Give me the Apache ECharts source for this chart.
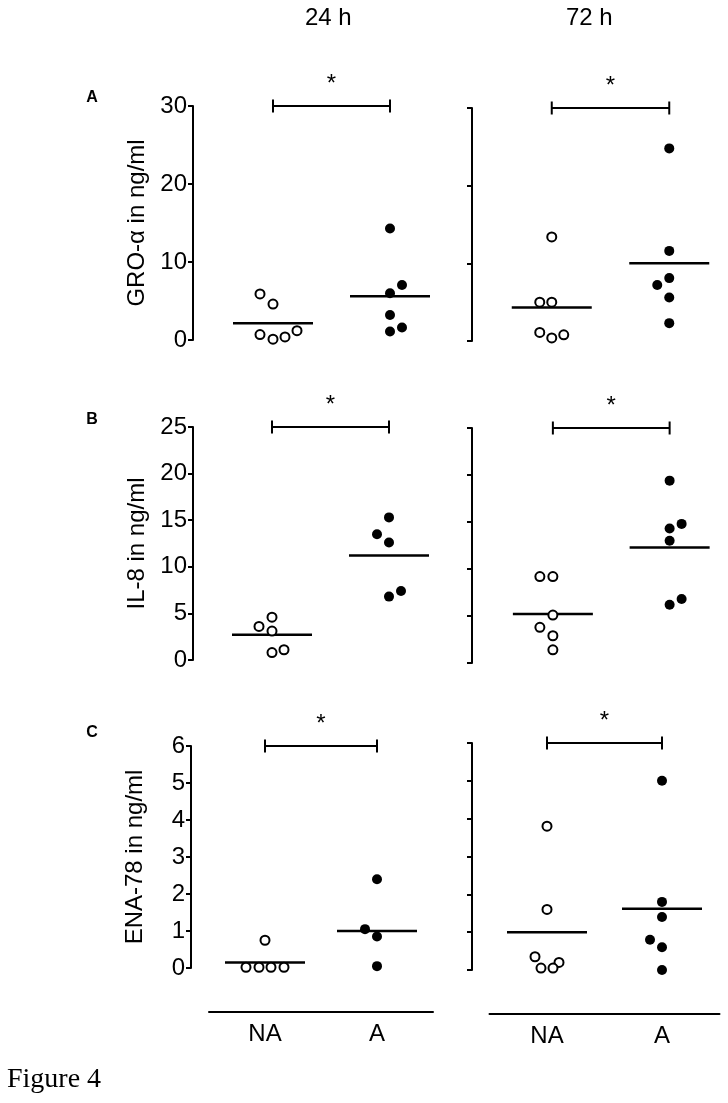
<!DOCTYPE html>
<html>
<head>
<meta charset="utf-8">
<title>Figure 4</title>
<script src="https://cdn.jsdelivr.net/npm/echarts@6/dist/echarts.min.js"></script>
<style>
html, body { margin: 0; padding: 0; background: #fff; }
#main { width: 728px; height: 1103px; }
</style>
</head>
<body>
<div id="main"></div>
<script>
// ---- data ----
var groups = ['NA', 'A'];
var times = ['24 h', '72 h'];
var letters = ['A', 'B', 'C'];
var yNames = ['GRO-α in ng/ml', 'IL-8 in ng/ml', 'ENA-78 in ng/ml'];
var yMax = [30, 25, 6];
var yStep = [10, 5, 1];

// GRO-alpha
var gro24NA = [5.9, 4.6, 0.7, 0.1, 0.4, 1.2];
var gro24A = [14.3, 7.05, 6.0, 3.2, 1.1, 1.6];
var gro72NA = [13.4, 5.0, 5.0, 1.1, 0.4, 0.8];
var gro72A = [24.8, 11.6, 8.1, 7.2, 5.6, 2.3];
var groMean24 = [2.15, 5.6];
var groMean72 = [4.3, 10.0];

// IL-8
var il24NA = [4.6, 3.6, 3.1, 0.8, 1.1];
var il24A = [15.3, 13.5, 12.6, 6.8, 7.4];
var il72NA = [9.2, 9.2, 5.1, 3.8, 2.9, 1.4];
var il72A = [19.4, 14.3, 14.8, 13.0, 6.2, 6.8];
var ilMean24 = [2.7, 11.2];
var ilMean72 = [5.2, 12.3];

// ENA-78
var ena24NA = [0.75, 0.02, 0.02, 0.02, 0.02];
var ena24A = [2.4, 1.05, 0.85, 0.05];
var ena72NA = [3.8, 1.6, 0.35, 0.2, 0.05, 0.05];
var ena72A = [5.0, 1.8, 1.4, 0.8, 0.6, 0.0];
var enaMean24 = [0.15, 1.0];
var enaMean72 = [1.0, 1.62];

// panels in reading order: A-24, A-72, B-24, B-72, C-24, C-72
var panelNA = [gro24NA, gro72NA, il24NA, il72NA, ena24NA, ena72NA];
var panelA = [gro24A, gro72A, il24A, il72A, ena24A, ena72A];
var panelMean = [groMean24, groMean72, ilMean24, ilMean72, enaMean24, enaMean72];

// ---- layout / style ----
// horizontal scatter spread (px) of the dots, same order as the values
var spreadNA = [
    [-13, 0, -13, 0, 12, 24], [0, -12, 0, -12, 0, 12],
    [0, -13, 0, 0, 12], [-13, 0, 0, -13, 0, 0],
    [0, -19, -6, 6, 19], [0, 0, -12, 12, -6, 6]
];
var spreadA = [
    [0, 12, 0, 0, 0, 12], [0, 0, 0, -12, 0, 0],
    [0, -12, 0, 0, 12], [0, 0, 12, 0, 0, 12],
    [0, -12, 0, 0], [0, 0, 0, -12, 0, 0]
];
// pixel frame of each panel: centre of NA, centre of A, top, bottom, y axis x
var frames = [
    {na: 273, a: 390, top: 106, bottom: 340, axisX: 193},
    {na: 552, a: 670, top: 108, bottom: 341, axisX: 472},
    {na: 272, a: 389, top: 427, bottom: 660, axisX: 193},
    {na: 553, a: 670, top: 428, bottom: 663, axisX: 472},
    {na: 265, a: 377, top: 746, bottom: 968, axisX: 191},
    {na: 547, a: 662, top: 743, bottom: 970, axisX: 472}
];

var FONT = "'Liberation Sans', Arial, sans-serif";

function drawFigure() {
    var myChart = echarts.init(document.getElementById('main'));

    var grid = [], xAxis = [], yAxis = [], series = [];

    for (var i = 0; i < 6; i++) {
        var r = Math.floor(i / 2), c = i % 2;
        var f = frames[i];
        var band = f.a - f.na;
        var left = f.na - band / 2;

        grid.push({left: left, top: f.top, width: band * 2, height: f.bottom - f.top});

        xAxis.push({
            gridIndex: i,
            type: 'category',
            data: groups,
            boundaryGap: true,
            offset: 44,
            axisLine: {show: r === 2, onZero: false, lineStyle: {color: '#000', width: 2}},
            axisTick: {show: false},
            axisLabel: {show: r === 2, color: '#000', fontSize: 24, fontFamily: FONT, margin: 10},
            splitLine: {show: false}
        });

        yAxis.push({
            gridIndex: i,
            type: 'value',
            min: 0,
            max: yMax[r],
            interval: yStep[r],
            offset: left - f.axisX,
            name: c === 0 ? yNames[r] : '',
            nameLocation: 'middle',
            nameGap: 44,
            nameTextStyle: {color: '#000', fontSize: 24, fontFamily: FONT},
            axisLine: {show: true, onZero: false, lineStyle: {color: '#000', width: 2}},
            axisTick: {show: true, length: 5, lineStyle: {color: '#000', width: 2}},
            axisLabel: {show: c === 0, color: '#000', fontSize: 24, fontFamily: FONT, margin: 6},
            splitLine: {show: false}
        });

        // mean lines
        series.push({
            type: 'scatter',
            xAxisIndex: i, yAxisIndex: i,
            symbol: 'rect',
            symbolSize: [80, 2.5],
            itemStyle: {color: '#000', opacity: 1},
            silent: true,
            clip: false,
            z: 2,
            data: [[0, panelMean[i][0]], [1, panelMean[i][1]]]
        });

        // not activated: open circles
        series.push({
            type: 'scatter',
            xAxisIndex: i, yAxisIndex: i,
            symbol: 'circle',
            symbolSize: 9,
            itemStyle: {color: '#fff', borderColor: '#000', borderWidth: 2, opacity: 1},
            clip: false,
            z: 3,
            data: panelNA[i].map(function (v, k) {
                return {value: [0, v], symbolOffset: [spreadNA[i][k], 0]};
            })
        });

        // activated: filled dots
        series.push({
            type: 'scatter',
            xAxisIndex: i, yAxisIndex: i,
            symbol: 'circle',
            symbolSize: 10,
            itemStyle: {color: '#000', opacity: 1},
            clip: false,
            z: 3,
            data: panelA[i].map(function (v, k) {
                return {value: [1, v], symbolOffset: [spreadA[i][k], 0]};
            })
        });

        // significance bracket
        series.push({
            type: 'line',
            xAxisIndex: i, yAxisIndex: i,
            symbol: 'rect',
            symbolSize: [2, 13],
            showSymbol: true,
            lineStyle: {color: '#000', width: 2},
            itemStyle: {color: '#000', opacity: 1},
            silent: true,
            clip: false,
            data: [[0, yMax[r]], [1, yMax[r]]]
        });
    }

    var graphic = [];
    graphic.push({id: 't0', type: 'text', left: 330 - 25, top: 6,
        style: {text: times[0], font: '24px ' + FONT, fill: '#000'}});
    graphic.push({id: 't1', type: 'text', left: 591 - 25, top: 6,
        style: {text: times[1], font: '24px ' + FONT, fill: '#000'}});
    var letterY = [98, 420, 733];
    for (var j = 0; j < 3; j++) {
        graphic.push({id: 'l' + j, type: 'text', x: 92, y: letterY[j],
            style: {text: letters[j], font: 'bold 16px ' + FONT, fill: '#000',
                align: 'center', verticalAlign: 'middle'}});
    }
    graphic.push({id: 'fig', type: 'text', x: 7, y: 1080,
        style: {text: 'Figure 4', font: '28px "Liberation Serif", "Times New Roman", serif',
            fill: '#000', align: 'left', verticalAlign: 'middle'}});

    option = {
        backgroundColor: '#fff',
        animation: false,
        grid: grid,
        xAxis: xAxis,
        yAxis: yAxis,
        series: series,
        graphic: graphic
    };
    myChart.setOption(option);

    // asterisks centred over each bracket
    var stars = [];
    for (var i2 = 0; i2 < 6; i2++) {
        var top = yMax[Math.floor(i2 / 2)];
        var p0 = myChart.convertToPixel({gridIndex: i2}, [0, top]);
        var p1 = myChart.convertToPixel({gridIndex: i2}, [1, top]);
        stars.push({id: 's' + i2, type: 'text', x: (p0[0] + p1[0]) / 2, y: p0[1] - 22,
            style: {text: '*', font: '24px ' + FONT, fill: '#000',
                align: 'center', verticalAlign: 'middle'}});
    }
    myChart.setOption({graphic: stars});

    window.addEventListener("resize", function () {
        myChart.resize();
    });
}

drawFigure();
</script>
</body>
</html>
